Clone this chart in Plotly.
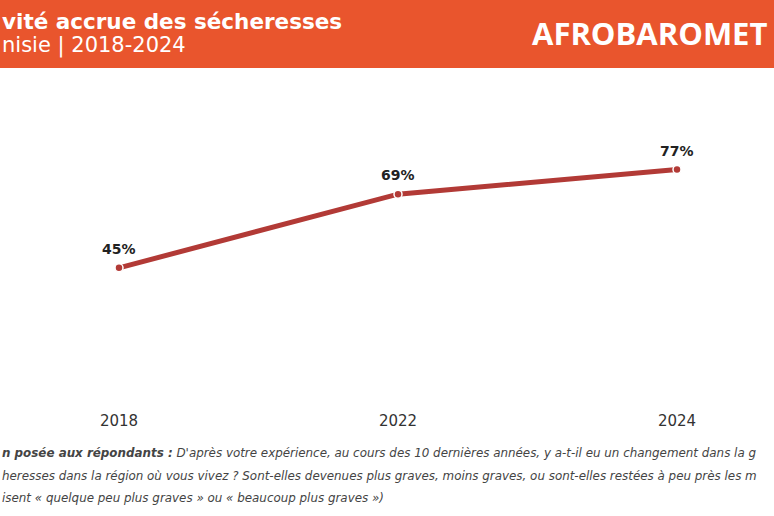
import plotly.graph_objects as go

years = ["2018", "2022", "2024"]
values = [45, 69, 77]
labels = [f"{v}%" for v in values]

title = "vité accrue des sécheresses"
subtitle = "nisie | 2018-2024"
logo = "AFROBAROMET"
note_lines = [
    "<b>n posée aux répondants :</b> D'après votre expérience, au cours des 10 dernières années, y a-t-il eu un changement dans la g",
    "heresses dans la région où vous vivez ? Sont-elles devenues plus graves, moins graves, ou sont-elles restées à peu près les m",
    "isent « quelque peu plus graves » ou « beaucoup plus graves »)",
]

W, H = 774, 516
T, B = 99, 110
PH = H - T - B
FONT = "DejaVu Sans"
LINE = "#B23A36"
ORANGE = "#E9552D"

def py(p):
    return (H - B - p) / PH

def px(p):
    return p / W

fig = go.Figure()
fig.add_trace(go.Scatter(
    x=years, y=values, mode="lines+markers",
    line=dict(color=LINE, width=5),
    marker=dict(color=LINE, size=8, line=dict(color="white", width=1.5)),
    hoverinfo="skip", showlegend=False,
))

ann = []
for i, (v, t) in enumerate(zip(values, labels)):
    ann.append(dict(x=i, y=v, xref="x", yref="y", text=f"<b>{t}</b>", showarrow=False,
                    yshift=19, font=dict(family=FONT, size=14, color="#222222")))

ann.append(dict(x=px(0), y=py(21), xref="paper", yref="paper", xanchor="left", yanchor="middle",
                text=f"<b>{title}</b>", showarrow=False, font=dict(family=FONT, size=21.5, color="white")))
ann.append(dict(x=px(0), y=py(46), xref="paper", yref="paper", xanchor="left", yanchor="middle",
                text=subtitle, showarrow=False, font=dict(family=FONT, size=21, color="white")))
ann.append(dict(x=px(530), y=py(33), xref="paper", yref="paper", xanchor="left", yanchor="middle",
                text=f"<b>{logo}</b>", showarrow=False, font=dict(family="Open Sans", size=31, color="white")))

for line, yy in zip(note_lines, [453, 476, 498]):
    ann.append(dict(x=px(0), y=py(yy), xref="paper", yref="paper", xanchor="left", yanchor="middle",
                    text=f"<i>{line}</i>", showarrow=False, align="left",
                    font=dict(family=FONT, size=11.9, color="#444444")))

fig.update_layout(
    width=W, height=H,
    margin=dict(l=0, r=0, t=T, b=B),
    paper_bgcolor="white", plot_bgcolor="white",
    xaxis=dict(type="category", range=[-119 / 279, (W - 119) / 279], showgrid=False, zeroline=False,
               showline=False, ticks="", ticklabelstandoff=4,
               tickfont=dict(family=FONT, size=15, color="#333333")),
    yaxis=dict(range=[0, 100], visible=False),
    shapes=[dict(type="rect", xref="paper", yref="paper", x0=-0.1, x1=1.1, y0=py(68), y1=py(-5),
                 fillcolor=ORANGE, line=dict(width=0), layer="below")],
    annotations=ann,
)

fig.write_html("out.html", config={"displayModeBar": False},
               post_script="document.body.style.margin='0';document.body.style.overflow='hidden';")
